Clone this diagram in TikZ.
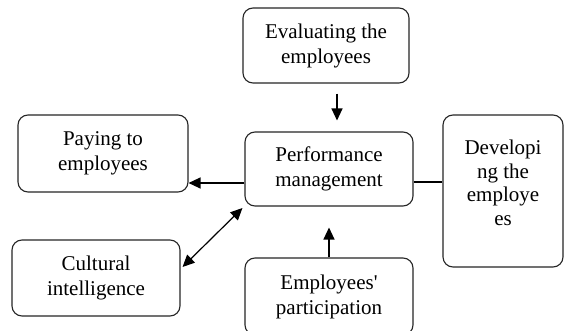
\documentclass[tikz,border=0pt]{standalone}
\usepackage{fontspec}
\setmainfont{Liberation Serif}
\usetikzlibrary{arrows.meta}
\begin{document}
\begin{tikzpicture}[x=1pt,y=-1pt,
  box/.style={draw=black!85, line width=1.1pt, rounded corners=10pt, align=center,
    font=\fontsize{21}{25}\selectfont, inner sep=0pt},
  txt/.style={align=center, font=\fontsize{21}{23.5}\selectfont, inner sep=0pt},
  tip/.style={Triangle[length=12pt,width=11pt]},
  arr/.style={line width=1.2pt, -{Triangle[length=12pt,width=11pt]}},
  biarr/.style={line width=1.2pt, {Triangle[length=12pt,width=11pt]}-{Triangle[length=12pt,width=11pt]}},
  link/.style={line width=1.2pt}]
\clip (0,0) rectangle (564,331);
\fill[white] (0,0) rectangle (564,331);

% boxes
\node[box, minimum width=166pt, minimum height=75pt] (eval) at (326,45.5) {Evaluating the\\employees};
\node[box, minimum width=168pt, minimum height=74pt] (perf) at (329,169) {Performance\\management};
\node[box, minimum width=170pt, minimum height=77pt] (pay) at (103,153.5) {Paying to\\employees};
\node[box, minimum width=168pt, minimum height=76pt] (cult) at (96,278) {Cultural\\intelligence};
\node[box, minimum width=168pt, minimum height=77pt] (part) at (329,296.5) {Employees\textquotesingle\\participation};
\node[box, minimum width=120pt, minimum height=152pt] (dev) at (503,191) {};
\node[txt] (devtext) at (503,183) {Developi\\ng the\\employe\\es};

% connectors
\draw[arr] ([shift={(11,10)}]eval.south) -- ([shift={(8,-11)}]perf.north);
\draw[arr] (part.north) -- ([shift={(0,21)}]perf.south);
\draw[arr] ([shift={(0,14)}]perf.west) coordinate (pa) -- (pa -| pay.east);
\draw[biarr] ([shift={(2,-11)}]cult.east) -- ([shift={(-2,39)}]perf.west);
\draw[link] ([shift={(0,13)}]perf.east) coordinate (pd) -- (pd -| dev.west);
\end{tikzpicture}
\end{document}
